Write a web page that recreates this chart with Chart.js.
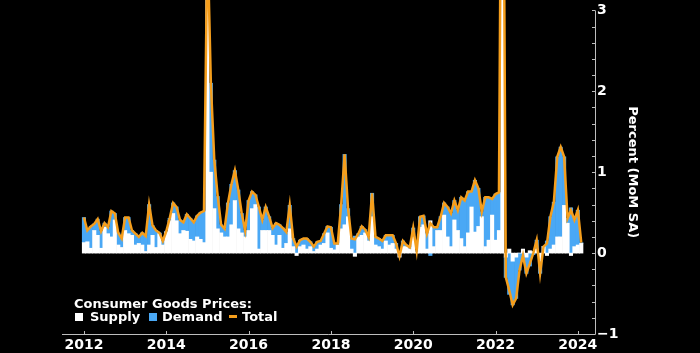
<!DOCTYPE html>
<html>
<head>
<meta charset="utf-8">
<script src="https://cdn.jsdelivr.net/npm/chart.js@4.4.1/dist/chart.umd.min.js"></script>
<style>
  html, body { margin:0; padding:0; background:#000; }
  #wrap { position:relative; width:700px; height:353px; background:#000; overflow:hidden; }
  canvas { position:absolute; left:0; top:0; }
  .lg { position:absolute; color:#fff; font-family:'DejaVu Sans', sans-serif; font-weight:bold; font-size:13px; line-height:13px; white-space:nowrap; }
  .sw { position:absolute; }
</style>
</head>
<body>
<div id="wrap">
  <canvas id="c" width="700" height="353"></canvas>
  <div class="lg" style="left:74px; top:297px;">Consumer Goods Prices:</div>
  <div class="sw" style="left:75px; top:313px; width:8px; height:8px; background:#ffffff;"></div>
  <div class="lg" style="left:90px; top:310px;">Supply</div>
  <div class="sw" style="left:149px; top:313px; width:8px; height:8px; background:#4aa8f5;"></div>
  <div class="lg" style="left:162px; top:310px;">Demand</div>
  <div class="sw" style="left:229px; top:315px; width:8px; height:3px; background:#f59e1c;"></div>
  <div class="lg" style="left:242px; top:310px;">Total</div>
</div>
<script>
// Monthly data, Jan 2012 .. Feb 2024 (percent, MoM SA)
const startYear = 2012;
const total = [
  0.44,0.28,0.33,0.36,0.42,0.27,0.37,0.32,0.52,0.49,0.25,0.18,
  0.44,0.44,0.28,0.24,0.20,0.25,0.21,0.60,0.34,0.28,0.25,0.15,
  0.27,0.43,0.62,0.57,0.41,0.38,0.48,0.43,0.38,0.46,0.50,0.52,
  3.90,2.10,1.15,0.70,0.35,0.30,0.62,0.85,1.02,0.78,0.49,0.28,
  0.65,0.76,0.72,0.57,0.41,0.57,0.45,0.31,0.37,0.35,0.31,0.26,
  0.59,0.18,0.08,0.16,0.18,0.18,0.14,0.08,0.14,0.15,0.24,0.33,
  0.32,0.12,0.12,0.60,1.22,0.55,0.18,0.17,0.24,0.33,0.29,0.20,
  0.74,0.20,0.18,0.15,0.22,0.22,0.22,0.12,-0.04,0.15,0.10,0.07,
  0.31,0.03,0.45,0.46,0.24,0.37,0.32,0.32,0.45,0.62,0.57,0.49,
  0.65,0.53,0.69,0.65,0.76,0.76,0.90,0.80,0.51,0.69,0.69,0.67,
  0.73,0.75,7.50,-0.30,-0.46,-0.64,-0.56,-0.21,-0.03,-0.25,-0.13,0.00,
  0.16,-0.25,0.08,0.12,0.45,0.63,1.19,1.31,1.19,0.43,0.53,0.41,
  0.53,0.13
];
const supply = [
  0.13,0.14,0.06,0.28,0.22,0.06,0.32,0.24,0.20,0.41,0.10,0.07,
  0.28,0.24,0.22,0.10,0.12,0.10,0.02,0.10,0.22,0.07,0.24,0.10,
  0.26,0.40,0.49,0.40,0.24,0.28,0.27,0.17,0.15,0.20,0.17,0.13,
  3.30,1.00,0.55,0.30,0.25,0.20,0.20,0.35,0.65,0.30,0.25,0.20,
  0.28,0.55,0.60,0.05,0.28,0.28,0.28,0.22,0.10,0.22,0.06,0.12,
  0.30,0.08,-0.03,0.08,0.10,0.05,0.08,0.02,0.05,0.10,0.12,0.25,
  0.06,0.04,0.10,0.30,0.35,0.45,0.05,-0.04,0.20,0.22,0.25,0.15,
  0.45,0.10,0.08,0.05,0.15,0.10,0.12,0.05,-0.05,0.08,0.08,0.05,
  0.20,0.01,0.32,0.35,0.05,0.40,0.08,0.28,0.28,0.47,0.20,0.08,
  0.41,0.28,0.18,0.08,0.25,0.57,0.26,0.33,0.45,0.08,0.16,0.47,
  0.16,0.28,6.50,-0.05,0.05,-0.10,-0.05,0.00,0.05,-0.05,0.03,0.02,
  0.05,-0.10,0.08,-0.03,0.05,0.10,0.20,0.20,0.59,0.37,-0.03,0.08,
  0.10,0.12
];
const demand = [
  0.31,0.14,0.27,0.08,0.20,0.21,0.05,0.08,0.32,0.08,0.15,0.11,
  0.16,0.20,0.06,0.14,0.08,0.15,0.19,0.50,0.12,0.21,0.01,0.05,
  0.01,0.03,0.13,0.17,0.17,0.10,0.21,0.26,0.23,0.26,0.33,0.39,
  0.60,1.10,0.60,0.40,0.10,0.10,0.42,0.50,0.37,0.48,0.24,0.08,
  0.37,0.21,0.12,0.52,0.13,0.29,0.17,0.09,0.27,0.13,0.25,0.14,
  0.29,0.10,0.11,0.08,0.08,0.13,0.06,0.06,0.09,0.05,0.12,0.08,
  0.26,0.08,0.02,0.30,0.87,0.10,0.13,0.21,0.04,0.11,0.04,0.05,
  0.29,0.10,0.10,0.10,0.07,0.12,0.10,0.07,0.01,0.07,0.02,0.02,
  0.11,0.02,0.13,0.11,0.19,-0.03,0.24,0.04,0.17,0.15,0.37,0.41,
  0.24,0.25,0.51,0.57,0.51,0.19,0.64,0.47,0.06,0.61,0.53,0.20,
  0.57,0.47,1.00,-0.25,-0.51,-0.54,-0.51,-0.21,-0.08,-0.20,-0.16,-0.02,
  0.11,-0.15,0.00,0.15,0.40,0.53,0.99,1.11,0.60,0.06,0.56,0.33,
  0.43,0.01
];
const xTickYears = [2012, 2014, 2016, 2018, 2020, 2022, 2024];
const yTickValues = [-1, 0, 1, 2, 3];

const toPts = arr => arr.map((v, i) => ({ x: startYear + i / 12, y: v }));

const WHITE = '#ffffff', BLUE = '#4aa8f5', ORANGE = '#f59e1c', AXIS = '#bdbdbd';
const FONT = "'DejaVu Sans', sans-serif";

const axisPlugin = {
  id: 'axisPlugin',
  afterDatasetsDraw(chart) {
    const { ctx, chartArea: a, scales: { x, y } } = chart;
    ctx.save();
    ctx.strokeStyle = AXIS;
    ctx.lineWidth = 1;
    ctx.beginPath();
    ctx.moveTo(a.left, a.bottom + 0.5);
    ctx.lineTo(a.right + 0.5, a.bottom + 0.5);
    ctx.moveTo(a.right + 0.5, a.top);
    ctx.lineTo(a.right + 0.5, a.bottom + 0.5);
    xTickYears.forEach(v => {
      const px = Math.round(x.getPixelForValue(v)) + 0.5;
      ctx.moveTo(px, a.bottom);
      ctx.lineTo(px, a.bottom - 3);
    });
    for (let k = -5; k <= 15; k++) {
      const py = Math.round(y.getPixelForValue(k / 5)) + 0.5;
      ctx.moveTo(a.right, py);
      ctx.lineTo(a.right - 3, py);
    }
    ctx.stroke();
    ctx.restore();
  }
};

new Chart(document.getElementById('c'), {
  data: {
    datasets: [
      { type: 'line', label: 'Total', data: toPts(total), stack: 'total', order: 0,
        borderColor: ORANGE, borderWidth: 2.5, pointRadius: 0, tension: 0, clip: false, fill: false },
      { type: 'bar', label: 'Supply', data: toPts(supply), stack: 'bars', order: 1,
        backgroundColor: WHITE, borderWidth: 0, barPercentage: 1, categoryPercentage: 1, clip: false },
      { type: 'bar', label: 'Demand', data: toPts(demand), stack: 'bars', order: 2,
        backgroundColor: BLUE, borderWidth: 0, barPercentage: 1, categoryPercentage: 1, clip: false }
    ]
  },
  options: {
    responsive: false,
    animation: false,
    devicePixelRatio: 1,
    layout: { padding: { left: 62, top: 10, right: 0, bottom: 0 } },
    plugins: { legend: { display: false }, tooltip: { enabled: false } },
    scales: {
      x: {
        type: 'linear', stacked: true, offset: false, grace: 0,
        min: startYear - 6.4 / 12, max: 2024 + 5 / 12,
        afterBuildTicks: s => { s.ticks = xTickYears.map(v => ({ value: v })); },
        afterFit: s => { s.height = 19; },
        grid: { display: false, drawTicks: false },
        border: { display: false },
        ticks: { color: '#fff', font: { family: FONT, weight: 'bold', size: 14 }, padding: 3,
                 maxRotation: 0, autoSkip: false, callback: v => String(v) }
      },
      y: {
        position: 'right', stacked: true, min: -1, max: 3,
        afterBuildTicks: s => { s.ticks = yTickValues.map(v => ({ value: v })); },
        afterFit: s => { s.width = 105; },
        grid: { display: false, drawTicks: false },
        border: { display: false },
        ticks: { color: '#fff', font: { family: FONT, weight: 'bold', size: 14 }, padding: 2,
                 callback: v => (v < 0 ? '\u2212' + Math.abs(v) : String(v)) },
        title: { display: true, text: 'Percent (MoM SA)', color: '#fff',
                 font: { family: FONT, weight: 'bold', size: 13 }, padding: { top: 60, bottom: 0 } }
      }
    }
  },
  plugins: [axisPlugin]
});
</script>
</body>
</html>
